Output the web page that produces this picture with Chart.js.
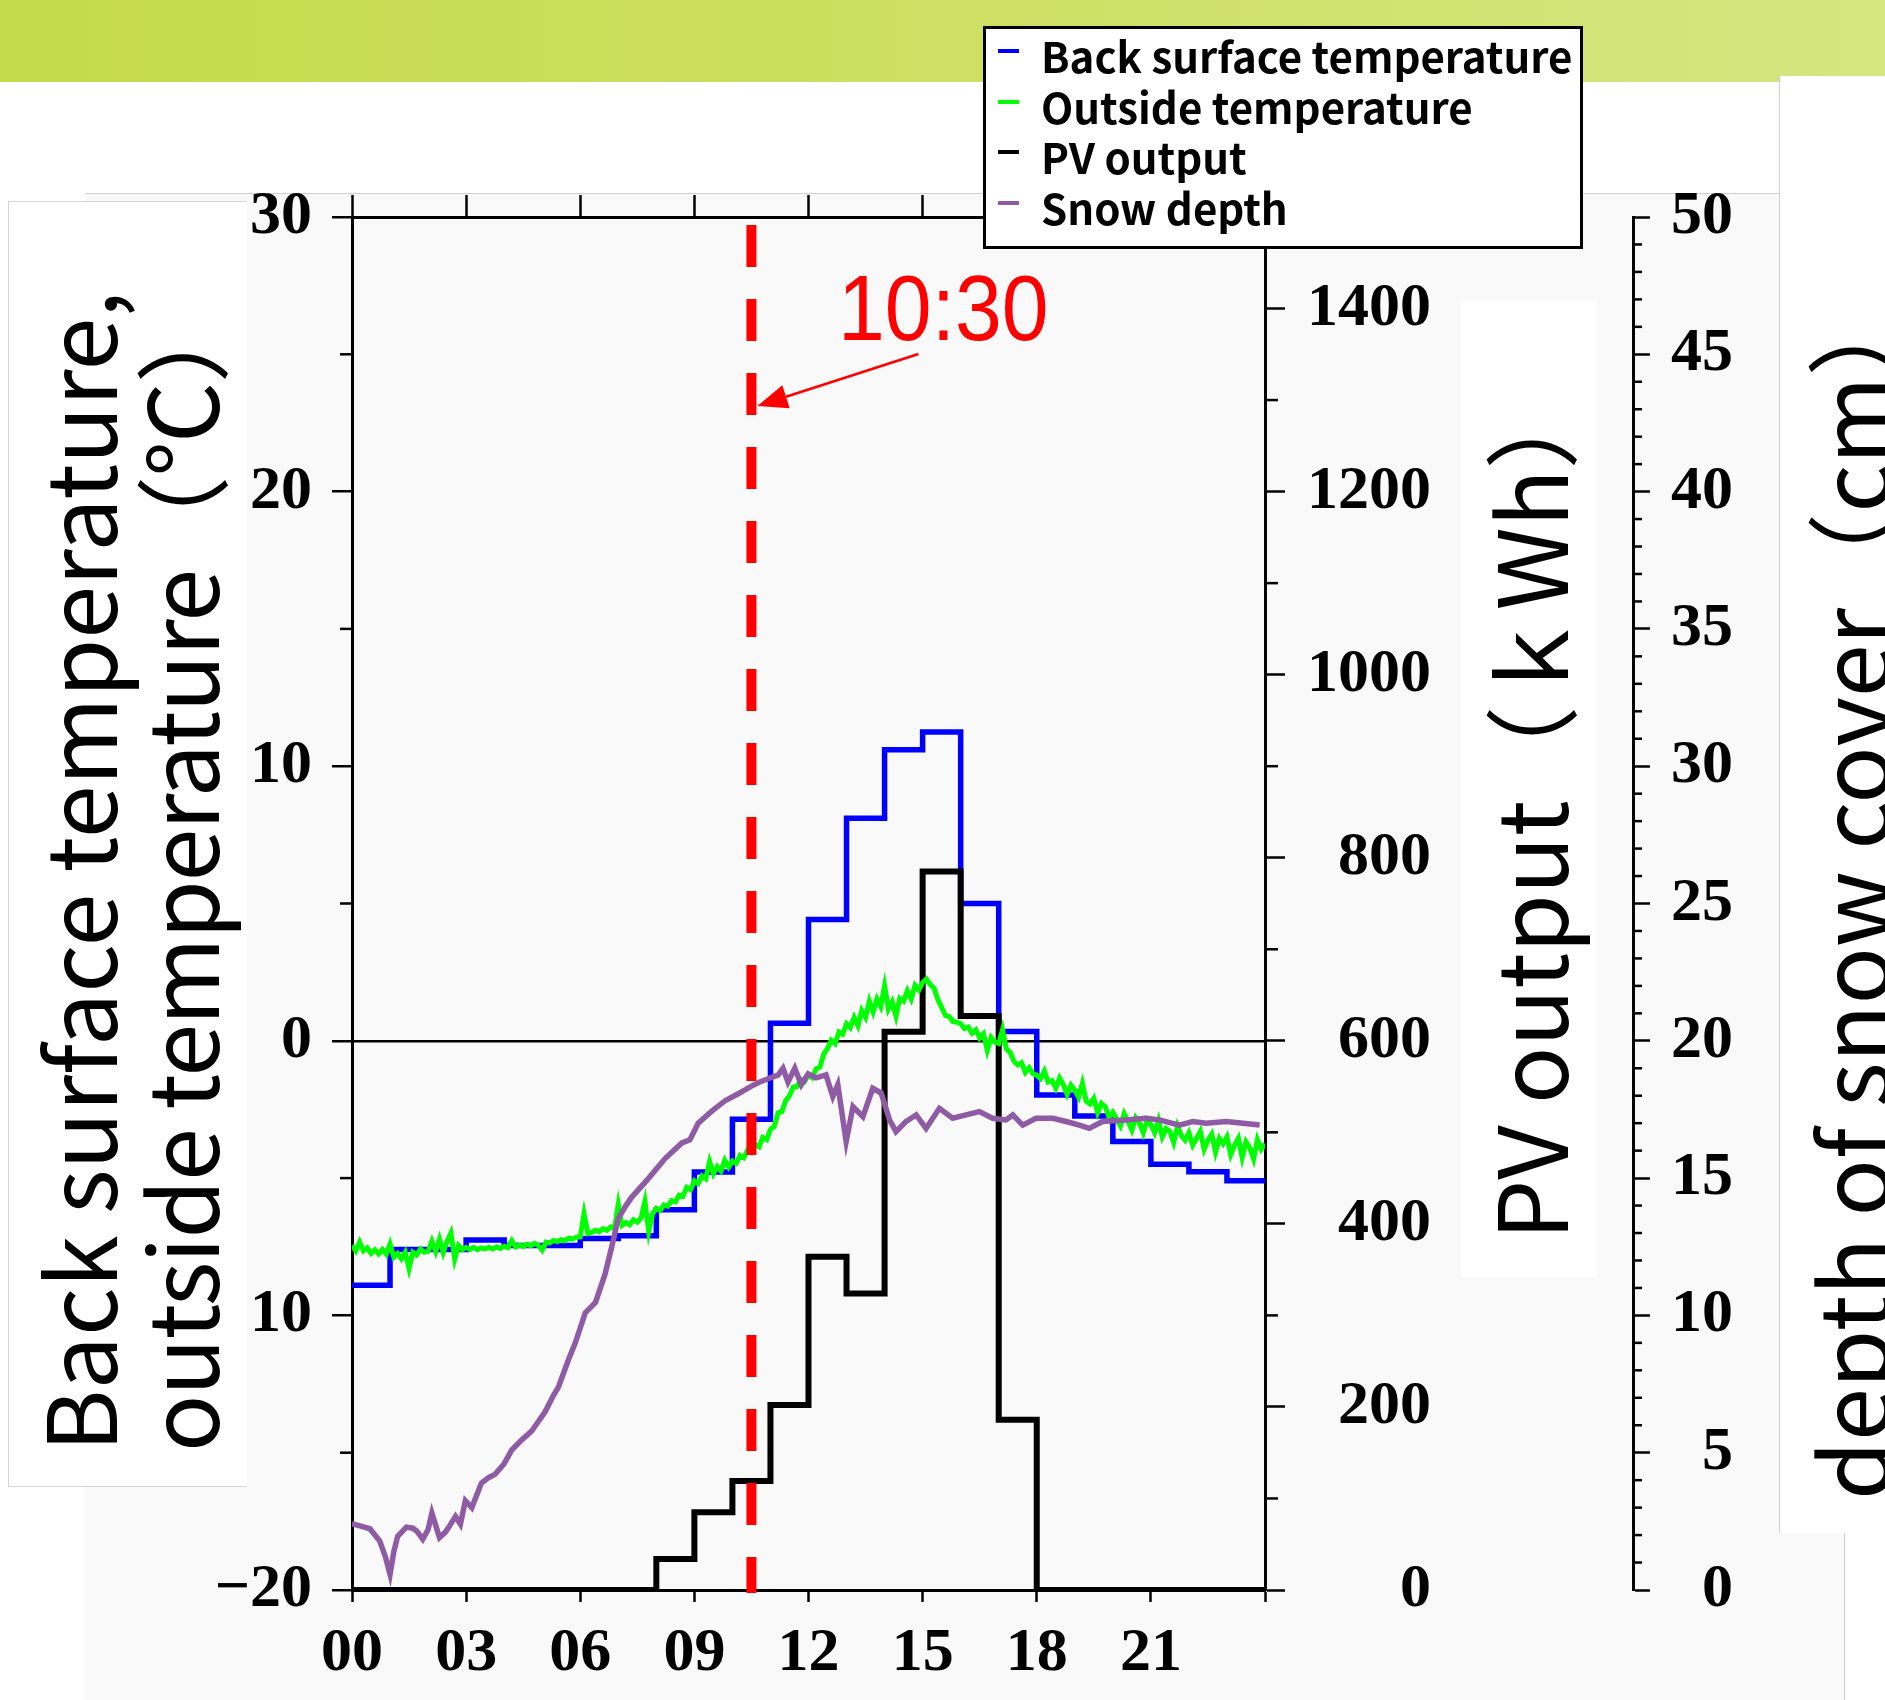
<!DOCTYPE html>
<html>
<head>
<meta charset="utf-8">
<script src="https://cdn.jsdelivr.net/npm/chart.js@4.4.1/dist/chart.umd.min.js"></script>
<style>
html,body{margin:0;padding:0;background:#fff;}
body{width:1885px;height:1700px;position:relative;overflow:hidden;font-family:"Noto Sans CJK JP","Noto Sans",sans-serif;}
#band{position:absolute;left:0;top:0;width:1885px;height:82px;background:linear-gradient(90deg,#c4db4a 0%,#cde065 55%,#d5e681 100%);}
#panel{position:absolute;left:85px;top:193px;width:1694px;height:1507px;background:#f9f9f9;border-top:1px solid #cfcfcf;}
#panel2{position:absolute;left:1779px;top:1533px;width:65px;height:167px;background:#f9f9f9;}
#cornerBox{position:absolute;left:1844px;top:1533px;width:41px;height:167px;background:#fff;border-left:1px solid #cfcfcf;z-index:2;}
#wrap{position:absolute;left:0;top:0;width:1885px;height:1700px;z-index:1;}
.wbox{position:absolute;background:#fff;z-index:2;overflow:hidden;}
#boxLeft{left:8px;top:201px;width:238px;height:1284px;border:1px solid #d4d4d4;border-right:none;}
#boxPV{left:1461px;top:301px;width:136px;height:976px;}
#boxSnow{left:1779px;top:76px;width:106px;height:1457px;border-left:1px solid #cfcfcf;}
.title{position:absolute;transform-origin:0 0;transform:rotate(-90deg);white-space:nowrap;font-size:95px;line-height:92px;color:#000;font-weight:400;}
#legend{position:absolute;left:983px;top:26px;width:594px;height:217px;background:#fff;border:3px solid #000;z-index:3;}
.lrow{position:absolute;left:0;height:50px;width:100%;}
.lmark{position:absolute;left:12px;top:19px;width:21px;height:4px;}
.ltext{position:absolute;left:55px;top:0;line-height:50px;font-size:42px;font-weight:700;color:#000;white-space:nowrap;font-family:"Noto Sans CJK JP","Noto Sans",sans-serif;}
#mlabel{position:absolute;left:838px;top:262px;font-family:"Liberation Sans",Arial,sans-serif;font-size:92px;line-height:92px;color:#ff0000;z-index:3;transform-origin:0 0;transform:scaleX(0.915);}
</style>
</head>
<body>
<div id="band"></div>
<div id="panel"></div>
<div id="panel2"></div>
<div id="wrap"><canvas id="c" width="1885" height="1700"></canvas></div>
<div class="wbox" id="boxLeft"></div>
<div class="wbox" id="boxPV"></div>
<div class="wbox" id="boxSnow"></div>
<div id="cornerBox"></div>
<div id="titles"></div>
<div id="legend"></div>
<div id="mlabel"></div>
<script>
// ---------- axis ticks / labels ----------
const hourTicks = [0, 3, 6, 9, 12, 15, 18, 21, 24];
const hourLabels = ['00', '03', '06', '09', '12', '15', '18', '21', ''];
const tempTicks = [-20, -10, 0, 10, 20, 30];
const tempLabels = ['−20', '−10', '0', '10', '20', '30'];
const tempMinorTicks = [-15, -5, 5, 15, 25];
const pvTicks = [0, 200, 400, 600, 800, 1000, 1200, 1400];
const pvLabels = ['0', '200', '400', '600', '800', '1000', '1200', '1400'];
const pvMinorTicks = [100, 300, 500, 700, 900, 1100, 1300, 1500];
const snowTicks = [0, 5, 10, 15, 20, 25, 30, 35, 40, 45, 50];
const snowLabels = ['0', '5', '10', '15', '20', '25', '30', '35', '40', '45', '50'];
const snowMinorTicks = [1,2,3,4,6,7,8,9,11,12,13,14,16,17,18,19,21,22,23,24,26,27,28,29,31,32,33,34,36,37,38,39,41,42,43,44,46,47,48,49];

// ---------- series ----------
const seriesNames = ['Back surface temperature', 'Outside temperature', 'PV output', 'Snow depth'];
const stepHours = [0,1,2,3,4,5,6,7,8,9,10,11,12,13,14,15,16,17,18,19,20,21,22,23,24];
// hourly values (value i holds from hour i to hour i+1)
const backSurfaceTemp = [-8.9,-7.6,-7.6,-7.25,-7.45,-7.45,-7.2,-7.1,-6.15,-4.78,-2.86,0.64,4.42,8.1,10.6,11.25,5.0,0.34,-1.97,-2.74,-3.67,-4.5,-4.77,-5.1];
const pvOutput = [0,0,0,0,0,0,0,0,34,85,119,202,364,324,610,785,627,186,0,0,0,0,0,0];

// outside temperature, every 0.1 h from 00:00 to 24:00
const outsideTempStart = 0;
const outsideTempInterval = 0.1;
const outsideTemp = [
-7.45,-7.65,-7.33,-7.65,-7.54,-7.74,-7.61,-7.76,-7.60,-7.77,
-7.40,-7.88,-7.75,-7.94,-7.70,-8.30,-7.70,-7.80,-7.58,-7.70,
-7.67,-7.30,-7.68,-7.22,-7.71,-7.30,-7.00,-7.95,-7.45,-7.60,
-7.52,-7.60,-7.53,-7.61,-7.54,-7.58,-7.52,-7.58,-7.51,-7.56,
-7.48,-7.53,-7.28,-7.50,-7.44,-7.49,-7.41,-7.46,-7.38,-7.45,
-7.62,-7.33,-7.36,-7.27,-7.31,-7.24,-7.28,-7.19,-7.22,-7.15,
-7.14,-6.30,-7.02,-6.98,-6.90,-6.95,-6.84,-6.90,-6.78,-6.84,
-5.95,-6.72,-6.62,-6.70,-6.52,-6.60,-6.45,-5.85,-6.95,-6.30,
-6.10,-6.18,-5.98,-6.02,-5.82,-5.86,-5.62,-5.66,-5.34,-5.42,
-5.10,-5.20,-4.92,-5.02,-4.40,-4.84,-4.58,-4.74,-4.35,-4.60,
-4.38,-4.46,-4.18,-4.26,-3.98,-4.06,-3.78,-3.86,-3.52,-3.60,
-3.22,-3.12,-2.62,-2.58,-2.18,-2.00,-1.68,-1.66,-1.40,-1.48,
-1.22,-1.34,-1.02,-0.95,-0.48,-0.28,0.02,-0.10,0.32,0.24,
0.62,0.48,0.85,0.55,1.10,0.85,1.45,1.05,1.52,1.25,
2.00,1.15,1.42,0.90,1.55,1.45,1.82,1.52,2.02,1.85,
2.12,2.25,2.05,1.92,1.50,1.22,0.92,0.88,0.70,0.68,
0.62,0.45,0.50,0.28,0.40,0.10,0.25,-0.35,0.12,-0.05,
-0.10,0.40,-0.30,-0.42,-0.75,-0.88,-0.80,-1.15,-0.98,-1.20,
-1.25,-1.38,-1.10,-1.50,-1.45,-1.72,-1.35,-1.60,-1.95,-1.62,
-1.80,-2.05,-1.55,-2.20,-2.30,-2.10,-2.62,-2.28,-2.40,-2.78,
-2.60,-2.85,-3.10,-2.65,-2.92,-3.25,-2.80,-3.00,-3.35,-2.88,
-3.05,-3.35,-2.90,-3.50,-3.20,-3.30,-3.70,-3.10,-3.45,-3.62,
-3.35,-3.80,-3.55,-3.30,-3.95,-3.62,-3.40,-4.05,-3.55,-3.75,
-3.50,-4.15,-3.80,-3.55,-4.25,-3.68,-3.90,-4.30,-3.60,-3.95,
-3.75
];

const snowHours = [0,0.3,0.47,0.73,0.88,1.0,1.1,1.2,1.43,1.6,1.7,1.86,2.0,2.1,2.3,2.45,2.55,2.72,2.85,2.98,3.15,3.4,3.6,3.76,4.0,4.2,4.45,4.73,5.08,5.3,5.43,5.7,5.87,6.13,6.4,6.65,6.83,7.0,7.2,7.35,7.8,8.23,8.67,8.88,9.1,9.45,9.8,10.15,10.5,10.72,11.07,11.2,11.33,11.46,11.64,11.81,11.99,12.2,12.46,12.64,12.77,12.99,13.17,13.43,13.69,13.91,14.13,14.3,14.56,14.83,15.09,15.44,15.79,16.14,16.49,16.84,17.19,17.37,17.63,17.98,18.42,18.77,19.12,19.38,19.73,20.34,20.87,21.22,21.75,22.1,22.45,22.98,23.42,23.86];
const snowDepth = [2.42,2.3,2.23,1.78,1.2,0.57,1.4,1.95,2.29,2.25,2.15,1.85,2.2,2.8,1.91,2.1,2.3,2.68,2.4,3.25,3.0,3.89,4.1,4.21,4.6,5.1,5.45,5.8,6.5,7.1,7.4,8.42,9.0,10.09,10.47,11.49,12.51,13.53,14.0,14.3,15.0,15.71,16.28,16.39,17.0,17.43,17.81,18.07,18.35,18.5,18.69,18.75,19.0,18.5,19.0,18.4,18.8,18.65,18.76,17.97,18.4,16.33,17.6,17.24,18.27,18.1,17.12,16.69,17.06,17.3,16.81,17.54,17.18,17.3,17.42,17.18,17.12,17.3,16.93,17.18,17.18,17.06,16.93,16.81,17.06,17.12,17.18,17.12,16.93,17.06,17.0,17.06,17.0,16.93];

const markerHour = 10.5;
const markerLabel = '10:30';

// ---------- titles / legend ----------
const leftTitleLines = ['Back surface temperature,', 'outside temperature（℃）'];
const pvTitle = 'PV output（ｋWh）';
const snowTitle = 'depth of snow cover（cm）';
const seriesColors = ['#0000ff', '#00ff00', '#000000', '#8e5ba4'];

function addTitle(text, x, y, spacing) {
  const d = document.createElement('div');
  d.className = 'title';
  d.textContent = text;
  d.style.left = x + 'px';
  d.style.top = y + 'px';
  d.style.zIndex = 4;
  if (spacing) d.style.letterSpacing = spacing + 'px';
  document.getElementById('titles').appendChild(d);
}
addTitle(leftTitleLines[0], 30, 1452);
addTitle(leftTitleLines[1], 132, 1452, -1.4);
addTitle(pvTitle, 1481, 1240);
addTitle(snowTitle, 1803, 1500);

const legend = document.getElementById('legend');
seriesNames.forEach((n, i) => {
  const r = document.createElement('div');
  r.className = 'lrow';
  r.style.top = (1 + i * 50.5) + 'px';
  const m = document.createElement('div');
  m.className = 'lmark';
  m.style.background = seriesColors[i];
  const t = document.createElement('div');
  t.className = 'ltext';
  t.textContent = n;
  r.appendChild(m); r.appendChild(t);
  legend.appendChild(r);
});
document.getElementById('mlabel').textContent = markerLabel;

// ---------- build data ----------
function stepData(values) {
  return stepHours.map((h, i) => ({x: h, y: values[Math.min(i, values.length - 1)]}));
}
const blueData = stepData(backSurfaceTemp);
const pvData = stepData(pvOutput);
const greenData = outsideTemp.map((v, i) => ({x: outsideTempStart + i * outsideTempInterval, y: v}));
const snowData = snowHours.map((h, i) => ({x: h, y: snowDepth[i]}));

const serif = {family: '"Liberation Serif","Times New Roman",serif', weight: 'bold', size: 62, lineHeight: 1};

function fixTicks(values) {
  return scale => { scale.ticks = values.map(v => ({value: v})); };
}

const minorTicksPlugin = {
  id: 'minorTicks',
  afterDraw(chart) {
    const {ctx, scales} = chart;
    ctx.save();
    ctx.strokeStyle = '#000';
    ctx.lineWidth = 2.5;
    const draw = (scale, values, x0, x1) => values.forEach(v => {
      const y = scale.getPixelForValue(v);
      ctx.beginPath(); ctx.moveTo(x0, y); ctx.lineTo(x1, y); ctx.stroke();
    });
    draw(scales.y, tempMinorTicks, scales.y.right - 12, scales.y.right);
    draw(scales.y1, pvMinorTicks, scales.y1.left, scales.y1.left + 13);
    draw(scales.y2, snowMinorTicks, scales.y2.left, scales.y2.left + 9);
    ctx.restore();
  }
};

const markerPlugin = {
  id: 'marker',
  afterDatasetsDraw(chart) {
    const {ctx, chartArea, scales} = chart;
    const px = scales.x.getPixelForValue(markerHour);
    ctx.save();
    ctx.strokeStyle = '#ff0000';
    ctx.lineWidth = 10;
    ctx.setLineDash([42, 32]);
    ctx.beginPath();
    ctx.moveTo(px, chartArea.top + 8);
    ctx.lineTo(px, chartArea.bottom + 3);
    ctx.stroke();
    ctx.setLineDash([]);
    const tipX = px + 6, tipY = chartArea.top + 189;
    const tailX = px + 167, tailY = chartArea.top + 137;
    const ang = Math.atan2(tipY - tailY, tipX - tailX);
    const hl = 30, hw = 12;
    const bx = tipX - hl * Math.cos(ang), by = tipY - hl * Math.sin(ang);
    ctx.lineWidth = 2.5;
    ctx.beginPath(); ctx.moveTo(tailX, tailY); ctx.lineTo(bx, by); ctx.stroke();
    ctx.fillStyle = '#ff0000';
    ctx.beginPath();
    ctx.moveTo(tipX, tipY);
    ctx.lineTo(bx + hw * Math.sin(ang), by - hw * Math.cos(ang));
    ctx.lineTo(bx - hw * Math.sin(ang), by + hw * Math.cos(ang));
    ctx.closePath(); ctx.fill();
    ctx.restore();
  }
};

const common = {pointRadius: 0, pointHoverRadius: 0, tension: 0, fill: false};

new Chart(document.getElementById('c'), {
  type: 'line',
  data: {
    datasets: [
      Object.assign({label: seriesNames[0], data: blueData, yAxisID: 'y', xAxisID: 'x', borderColor: seriesColors[0], borderWidth: 5.5, stepped: 'before', order: 4}, common),
      Object.assign({label: seriesNames[1], data: greenData, yAxisID: 'y', xAxisID: 'x', borderColor: seriesColors[1], borderWidth: 5, order: 2}, common),
      Object.assign({label: seriesNames[2], data: pvData, yAxisID: 'y1', xAxisID: 'x', borderColor: seriesColors[2], borderWidth: 6, stepped: 'before', order: 3}, common),
      Object.assign({label: seriesNames[3], data: snowData, yAxisID: 'y2', xAxisID: 'x', borderColor: seriesColors[3], borderWidth: 5.5, order: 1}, common)
    ]
  },
  options: {
    responsive: false,
    animation: false,
    events: [],
    layout: {padding: {top: 195, left: 0, right: 152, bottom: 0}},
    plugins: {legend: {display: false}, tooltip: {enabled: false}},
    scales: {
      x: {
        type: 'linear', position: 'bottom', min: 0, max: 24,
        afterBuildTicks: fixTicks(hourTicks),
        ticks: {callback: (v, i) => hourLabels[i], font: serif, color: '#000', padding: 21, maxRotation: 0, autoSkip: false},
        grid: {drawOnChartArea: false, tickLength: 12, tickColor: '#000', tickWidth: 2.5},
        border: {color: '#000', width: 3},
        afterFit: s => { s.height = 110; }
      },
      xTop: {
        type: 'linear', position: 'top', min: 0, max: 24,
        afterBuildTicks: fixTicks(hourTicks),
        ticks: {display: false},
        grid: {drawOnChartArea: false, tickLength: 22, tickColor: '#000', tickWidth: 2.5},
        border: {color: '#000', width: 3},
        afterFit: s => { s.height = 22; }
      },
      y: {
        type: 'linear', position: 'left', min: -20, max: 30,
        afterBuildTicks: fixTicks(tempTicks),
        ticks: {callback: (v, i) => tempLabels[i], font: serif, color: '#000', padding: 20, autoSkip: false},
        grid: {color: c => (c.tick && c.tick.value === 0) ? '#000' : 'rgba(0,0,0,0)', lineWidth: 2.5, tickLength: 20, tickColor: '#000', tickWidth: 2.5},
        border: {color: '#000', width: 3},
        afterFit: s => { s.width = 352; }
      },
      y1: {
        type: 'linear', position: 'right', weight: 0, min: 0, max: 1500,
        afterBuildTicks: fixTicks(pvTicks),
        ticks: {callback: (v, i) => pvLabels[i], font: serif, color: '#000', padding: 22, crossAlign: 'far', autoSkip: false},
        grid: {drawOnChartArea: false, tickLength: 20, tickColor: '#000', tickWidth: 2.5},
        border: {color: '#000', width: 3},
        afterFit: s => { s.width = 166; }
      },
      gap: {
        type: 'linear', position: 'right', weight: 1, min: 0, max: 1,
        afterBuildTicks: fixTicks([]),
        ticks: {display: false},
        grid: {display: false},
        border: {display: false},
        afterFit: s => { s.width = 202; }
      },
      y2: {
        type: 'linear', position: 'right', weight: 2, min: 0, max: 50,
        afterBuildTicks: fixTicks(snowTicks),
        ticks: {callback: (v, i) => snowLabels[i], font: serif, color: '#000', padding: 21, crossAlign: 'far', autoSkip: false},
        grid: {drawOnChartArea: false, tickLength: 17, tickColor: '#000', tickWidth: 2.5},
        border: {color: '#000', width: 3},
        afterFit: s => { s.width = 100; }
      }
    }
  },
  plugins: [minorTicksPlugin, markerPlugin]
});
</script>
</body>
</html>
